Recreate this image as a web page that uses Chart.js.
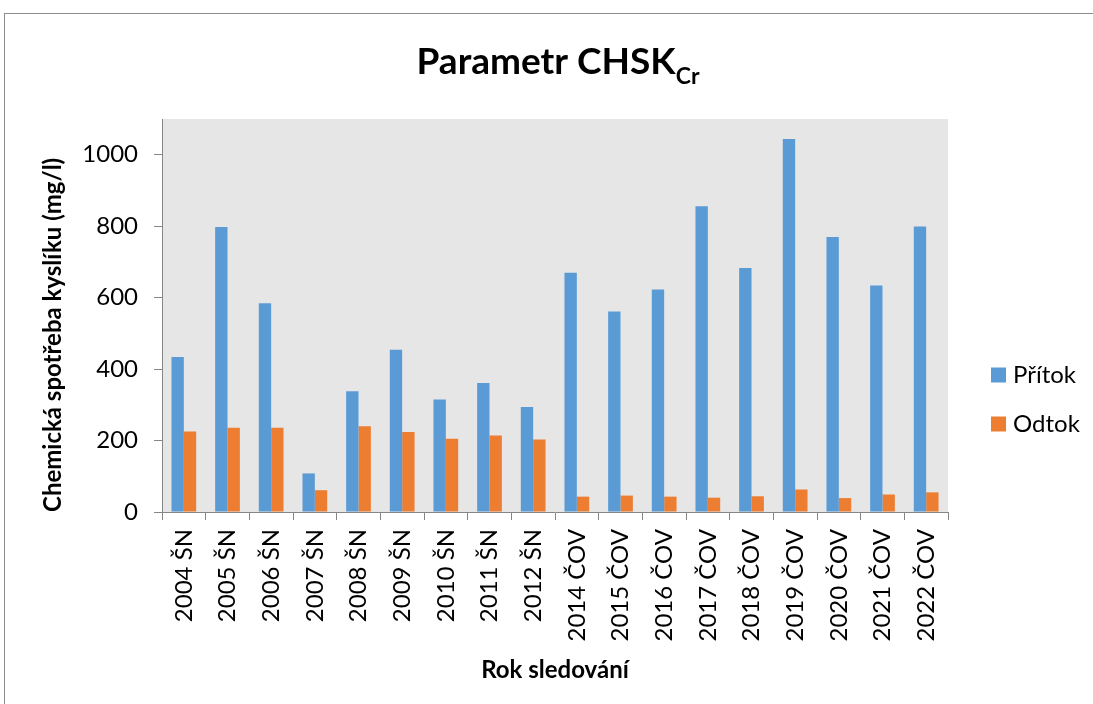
<!DOCTYPE html>
<html>
<head>
<meta charset="utf-8">
<script src="https://cdn.jsdelivr.net/npm/chart.js@4.4.1/dist/chart.umd.min.js"></script>
<style>
    html, body { margin: 0; padding: 0; background: #fff; overflow: hidden; }
    #wrap { position: relative; width: 1093px; height: 704px; }
    #frame {
        position: absolute; left: 4px; top: 13px; width: 2000px; height: 2000px;
        border-top: 1px solid #8c8c8c; border-left: 1px solid #8c8c8c;
        pointer-events: none;
    }
</style>
</head>
<body>
<div id="wrap">
    <canvas id="chskChart" width="1093" height="704"></canvas>
    <div id="frame"></div>
</div>
<script>
const years = ["2004 ŠN", "2005 ŠN", "2006 ŠN", "2007 ŠN", "2008 ŠN", "2009 ŠN", "2010 ŠN", "2011 ŠN", "2012 ŠN",
    "2014 ČOV", "2015 ČOV", "2016 ČOV", "2017 ČOV", "2018 ČOV", "2019 ČOV", "2020 ČOV", "2021 ČOV", "2022 ČOV"];
const pritok = [434, 798, 584, 108, 338, 454, 315, 361, 294, 670, 561, 623, 856, 683, 1044, 770, 634, 799];
const odtok = [225, 236, 236, 61, 240, 224, 205, 214, 203, 43, 46, 43, 40, 44, 63, 39, 49, 55];
const yTicks = [0, 200, 400, 600, 800, 1000];

const axisGray = '#868686';
Chart.defaults.font.family = 'Lato';
Chart.defaults.color = '#000';

// plot background, title with subscript, legend on the right
const excelLook = {
    id: 'excelLook',
    beforeDraw(chart) {
        const { ctx, chartArea: a } = chart;
        ctx.save();
        ctx.fillStyle = '#e6e6e6';
        ctx.fillRect(a.left, a.top, a.right - a.left, a.bottom - a.top);
        ctx.restore();
    },
    afterDraw(chart) {
        const ctx = chart.ctx;
        ctx.save();
        ctx.fillStyle = '#000';
        ctx.textBaseline = 'alphabetic';
        const mainFont = 'bold 37px Lato';
        const subFont = 'bold 23px Lato';
        ctx.font = mainFont;
        const w1 = ctx.measureText('Parametr CHSK').width;
        ctx.font = subFont;
        const w2 = ctx.measureText('Cr').width;
        const x0 = 558 - (w1 + w2) / 2;
        ctx.font = mainFont;
        ctx.fillText('Parametr CHSK', x0, 74);
        ctx.font = subFont;
        ctx.fillText('Cr', x0 + w1, 84);

        ctx.font = '24px Lato';
        ctx.textBaseline = 'middle';
        const rows = [375, 424];
        chart.data.datasets.forEach((ds, i) => {
            ctx.fillStyle = ds.backgroundColor;
            ctx.fillRect(991, rows[i] - 7.5, 15, 15);
            ctx.fillStyle = '#000';
            ctx.fillText(ds.label, 1013, rows[i]);
        });
        ctx.restore();
    }
};

new Chart(document.getElementById('chskChart'), {
    type: 'bar',
    data: {
        labels: years,
        datasets: [
            { label: 'Přítok', data: pritok, backgroundColor: '#5b9bd5' },
            { label: 'Odtok', data: odtok, backgroundColor: '#ed7d31' }
        ]
    },
    options: {
        responsive: false,
        animation: false,
        layout: { padding: { top: 119, left: 35, right: 145, bottom: 15 } },
        datasets: { bar: { categoryPercentage: 0.566, barPercentage: 1 } },
        plugins: {
            legend: { display: false },
            title: { display: false },
            tooltip: { enabled: false }
        },
        scales: {
            x: {
                grid: { offset: true, drawOnChartArea: false, tickLength: 8, tickColor: axisGray },
                border: { color: axisGray },
                ticks: { autoSkip: false, minRotation: 90, maxRotation: 90, padding: 9, font: { size: 24 } },
                title: { display: true, text: 'Rok sledování', font: { size: 24, weight: 'bold' } },
                afterFit(scale) { scale.height = 177; }
            },
            y: {
                min: 0,
                max: 1100,
                grid: { drawOnChartArea: false, tickLength: 8, tickColor: axisGray },
                border: { color: axisGray },
                ticks: { padding: 16, font: { size: 24 }, callback: v => String(v) },
                afterBuildTicks(scale) { scale.ticks = yTicks.map(v => ({ value: v })); },
                title: { display: true, align: 'start', text: 'Chemická spotřeba kyslíku (mg/l)', font: { size: 24, weight: 'bold' } },
                afterFit(scale) { scale.width = 127; }
            }
        }
    },
    plugins: [excelLook]
});
</script>
</body>
</html>
